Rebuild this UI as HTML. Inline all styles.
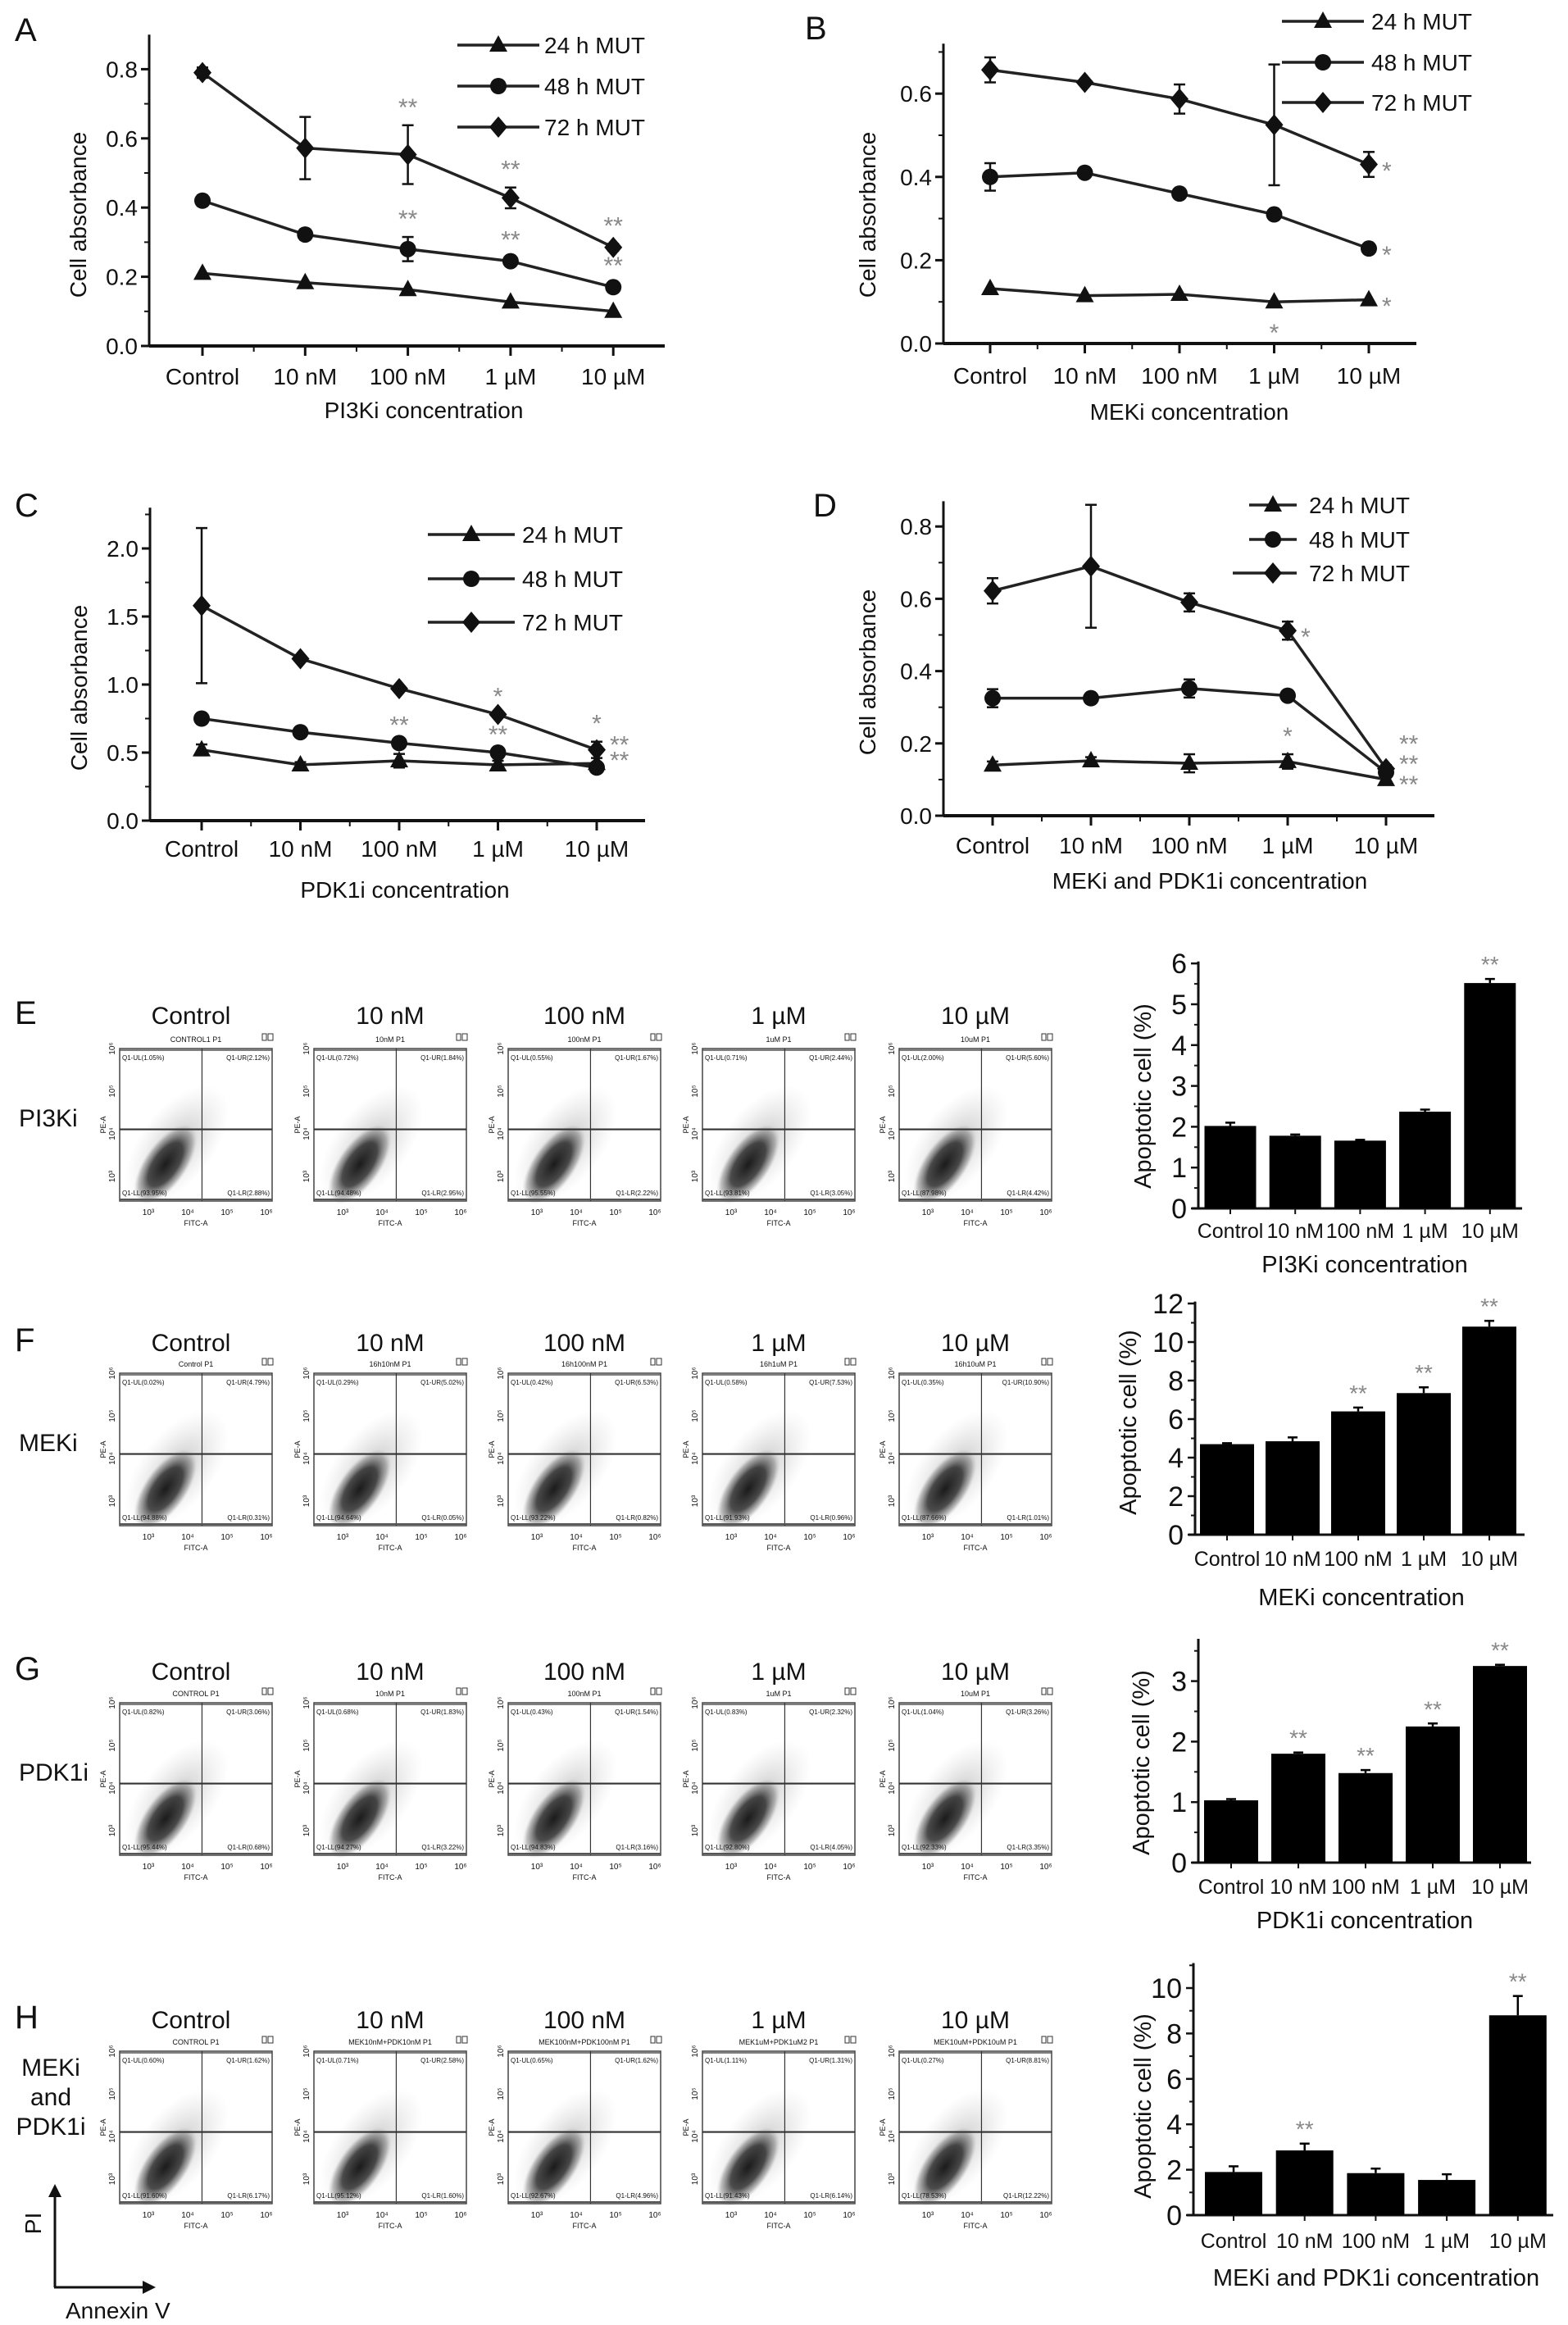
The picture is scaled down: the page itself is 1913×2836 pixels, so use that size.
<!DOCTYPE html>
<html><head><meta charset="utf-8">
<style>
html,body{margin:0;padding:0;background:#fff;}
svg{display:block;font-family:"Liberation Sans",Arial,sans-serif;}
</style></head>
<body>
<svg id="fig" xmlns="http://www.w3.org/2000/svg" width="1913" height="2836" viewBox="0 0 1913 2836">
<defs>
<radialGradient id="blob" cx="50%" cy="50%" r="50%">
<stop offset="0%" stop-color="#111" stop-opacity="0.95"/>
<stop offset="55%" stop-color="#222" stop-opacity="0.8"/>
<stop offset="85%" stop-color="#555" stop-opacity="0.35"/>
<stop offset="100%" stop-color="#999" stop-opacity="0"/>
</radialGradient>
<radialGradient id="haze" cx="50%" cy="50%" r="50%">
<stop offset="0%" stop-color="#666" stop-opacity="0.4"/>
<stop offset="100%" stop-color="#aaa" stop-opacity="0"/>
</radialGradient>
</defs>
</svg>
<script>
// ---------- DATA ----------
const categories = ['Control','10 nM','100 nM','1 \u00b5M','10 \u00b5M'];
const seriesNames = ['24 h MUT','48 h MUT','72 h MUT'];
const yTicksA = [0,0.2,0.4,0.6,0.8];
const yTicksB = [0,0.2,0.4,0.6];
const yTicksC = [0,0.5,1.0,1.5,2.0];
const yTicksD = [0,0.2,0.4,0.6,0.8];
// Panel A (PI3Ki)
const a24 = [0.21,0.183,0.163,0.127,0.10];
const a24e = [0,0,0,0,0];
const a48 = [0.42,0.322,0.28,0.245,0.17];
const a48e = [0.015,0.015,0.035,0.01,0.01];
const a72 = [0.79,0.572,0.553,0.428,0.285];
const a72e = [0.015,0.09,0.085,0.03,0.01];
// Panel B (MEKi)
const b24 = [0.132,0.115,0.118,0.10,0.105];
const b24e = [0,0,0,0,0];
const b48 = [0.40,0.41,0.36,0.31,0.228];
const b48e = [0.033,0.01,0,0,0];
const b72 = [0.657,0.627,0.587,0.525,0.43];
const b72e = [0.03,0,0.035,0.145,0.03];
// Panel C (PDK1i)
const c24 = [0.52,0.41,0.44,0.41,0.42];
const c24e = [0.04,0.02,0.05,0.03,0];
const c48 = [0.75,0.65,0.57,0.50,0.39];
const c48e = [0.02,0,0,0,0.03];
const c72 = [1.58,1.19,0.97,0.78,0.52];
const c72e = [0.57,0,0,0,0.06];
// Panel D (MEKi + PDK1i)
const d24 = [0.14,0.152,0.145,0.15,0.10];
const d24e = [0.01,0.01,0.025,0.02,0.01];
const d48 = [0.325,0.325,0.352,0.332,0.12];
const d48e = [0.025,0,0.025,0,0.01];
const d72 = [0.622,0.69,0.59,0.512,0.13];
const d72e = [0.035,0.17,0.025,0.025,0.01];
// significance marks: [seriesIndex, categoryIndex, text, position, pixelNudge]
const starsA = [[2,2,'**','above',0],[1,2,'**','above',0],[2,3,'**','above',0],[1,3,'**','above',0],[2,4,'**','above',0],[1,4,'**','above',0]];
const starsB = [[2,4,'*','right',0],[1,4,'*','right',0],[0,4,'*','right',0],[0,3,'*','below',0]];
const starsC = [[1,2,'**','above',0],[2,3,'*','above',0],[1,3,'**','above',0],[2,4,'*','above',0],[1,4,'**','right',-17],[0,4,'**','right',-31]];
const starsD = [[2,3,'*','right',0],[0,3,'*','above',0],[2,4,'**','right',-38],[1,4,'**','right',-18],[0,4,'**','right',-2]];
// Bar charts (apoptotic %)
const eVals = [2.02,1.78,1.66,2.37,5.52];
const eErr = [0.08,0.03,0.02,0.05,0.1];
const eStars = ['','','','','**'];
const eTicks = [0,1,2,3,4,5,6];
const fVals = [4.7,4.85,6.4,7.35,10.8];
const fErr = [0.05,0.2,0.2,0.3,0.3];
const fStars = ['','','**','**','**'];
const fTicks = [0,2,4,6,8,10,12];
const gVals = [1.03,1.8,1.48,2.25,3.25];
const gErr = [0.02,0.02,0.05,0.05,0.02];
const gStars = ['','**','**','**','**'];
const gTicks = [0,1,2,3];
const hVals = [1.9,2.85,1.85,1.55,8.8];
const hErr = [0.25,0.3,0.2,0.25,0.85];
const hStars = ['','**','','','**'];
const hTicks = [0,2,4,6,8,10];
// Flow cytometry quadrant percentages [UL,UR,LL,LR]
const flowE = [[1.05,2.12,93.95,2.88],[0.72,1.84,94.48,2.95],[0.55,1.67,95.55,2.22],[0.71,2.44,93.81,3.05],[2.00,5.60,87.98,4.42]];
const flowF = [[0.02,4.79,94.88,0.31],[0.29,5.02,94.64,0.05],[0.42,6.53,93.22,0.82],[0.58,7.53,91.93,0.96],[0.35,10.90,87.66,1.01]];
const flowG = [[0.82,3.06,95.44,0.68],[0.68,1.83,94.27,3.22],[0.43,1.54,94.83,3.16],[0.83,2.32,92.80,4.05],[1.04,3.26,92.33,3.35]];
const flowH = [[0.60,1.62,91.60,6.17],[0.71,2.58,95.12,1.60],[0.65,1.62,92.67,4.96],[1.11,1.31,91.43,6.14],[0.27,8.81,78.53,12.22]];

// ---------- helpers ----------
const NS = 'http://www.w3.org/2000/svg';
const svg = document.getElementById('fig');
function mk(tag, attrs, parent){
  const el = document.createElementNS(NS, tag);
  for (const k in attrs) el.setAttribute(k, attrs[k]);
  (parent || svg).appendChild(el);
  return el;
}
function txt(s, x, y, size, anchor, parent, extra){
  const el = mk('text', Object.assign({x:x, y:y, 'font-size':size, 'text-anchor':anchor||'middle', fill:'#111'}, extra||{}), parent);
  el.textContent = s;
  return el;
}
function marker(kind, x, y, parent){
  let el;
  if (kind === 0) el = mk('polygon', {points:(x)+','+(y-12)+' '+(x-11)+','+(y+8)+' '+(x+11)+','+(y+8), fill:'#111'}, parent);
  else if (kind === 1) el = mk('circle', {cx:x, cy:y, r:10, fill:'#111'}, parent);
  else el = mk('polygon', {points:x+','+(y-13)+' '+(x+11)+','+y+' '+x+','+(y+13)+' '+(x-11)+','+y, fill:'#111'}, parent);
  return el;
}

// ---------- line chart ----------
function lineChart(c){
  const g = mk('g', {});
  
  
  const X = i => c.cx0 + i*c.step;
  const Y = v => c.y0 - v*c.ppu;
  const letter = txt(c.letter, c.lx, c.ly, 40, 'start', g);
  
  
  const yax = mk('line', {x1:c.ax, y1:Y(c.ymax), x2:c.ax, y2:c.y0, stroke:'#111', 'stroke-width':3}, g);
  
  
  const xax = mk('line', {x1:c.ax, y1:c.y0, x2:c.xend, y2:c.y0, stroke:'#111', 'stroke-width':4}, g);
  
  
  c.ticks.forEach((t, k) => {
    mk('line', {x1:c.ax-10, y1:Y(t), x2:c.ax, y2:Y(t), stroke:'#111', 'stroke-width':3}, g);
    const m = t + (c.ticks[1]-c.ticks[0])/2;
    if (m < c.ymax) mk('line', {x1:c.ax-6, y1:Y(m), x2:c.ax, y2:Y(m), stroke:'#111', 'stroke-width':2}, g);
    const tl = txt(t.toFixed(1), c.ax-14, Y(t)+10, 28, 'end', g);
    
    
  });
  categories.forEach((cat, i) => {
    mk('line', {x1:X(i), y1:c.y0, x2:X(i), y2:c.y0+12, stroke:'#111', 'stroke-width':3}, g);
    if (i < categories.length-1) mk('line', {x1:X(i+0.5), y1:c.y0, x2:X(i+0.5), y2:c.y0+7, stroke:'#111', 'stroke-width':2}, g);
    const tl = txt(cat, X(i), c.tickY, 28, 'middle', g);
    
    
  });
  const xl = txt(c.xlabel, c.xlx, c.xly, 28, 'middle', g);
  
  
  const yl = txt('Cell absorbance', 0, 0, 28, 'middle', g, {transform:'translate('+(c.ylx)+','+(c.yly)+') rotate(-90)'});
  
  
  c.series.forEach((s, si) => {
    const sg = mk('g', {}, g);
    
    
    const pts = s.v.map((v,i) => X(i)+','+Y(v)).join(' ');
    mk('polyline', {points:pts, fill:'none', stroke:'#222', 'stroke-width':3.5}, sg);
    s.v.forEach((v,i) => {
      const e = s.e[i];
      if (e > 0) {
        mk('line', {x1:X(i), y1:Y(v+e), x2:X(i), y2:Y(v-e), stroke:'#111', 'stroke-width':2.5}, sg);
        mk('line', {x1:X(i)-7, y1:Y(v+e), x2:X(i)+7, y2:Y(v+e), stroke:'#111', 'stroke-width':2.5}, sg);
        mk('line', {x1:X(i)-7, y1:Y(v-e), x2:X(i)+7, y2:Y(v-e), stroke:'#111', 'stroke-width':2.5}, sg);
      }
      const m = marker(si, X(i), Y(v), sg);
      
      
    });
  });
  c.stars.forEach(st => {
    const s = c.series[st[0]], i = st[1];
    const v = s.v[i], e = s.e[i];
    let x = X(i), y;
    let anchor = 'middle';
    if (st[3] === 'above') y = Y(v+e) - 12;
    else if (st[3] === 'below') y = Y(v) + 48;
    else { x = X(i)+16; y = Y(v)+18; anchor = 'start'; }
    y += st[4] || 0;
    const t = txt(st[2], x, y, 30, anchor, g, {fill:'#888'});
    
    
  });
  c.legend.rows.forEach((ry, si) => {
    const lg = mk('g', {}, g);
    
    
    mk('line', {x1:c.legend.x1[si], y1:ry, x2:c.legend.x2, y2:ry, stroke:'#222', 'stroke-width':3.5}, lg);
    marker(si, (c.legend.x1[1]+c.legend.x2)/2, ry, lg);
    txt(seriesNames[si], c.legend.tx, ry+10, 28, 'start', lg);
  });
}

lineChart({name:'panel-a-pi3ki-line-chart', letter:'A', lx:18, ly:50, ax:182, y0:422, ppu:422, ymax:0.9, ticks:yTicksA,
  cx0:247, step:125.3, xend:811, tickY:469, xlabel:'PI3Ki concentration', xlx:517, xly:510, ylx:105, yly:262,
  series:[{v:a24,e:a24e},{v:a48,e:a48e},{v:a72,e:a72e}], stars:starsA,
  legend:{x1:[558,558,558], x2:658, tx:664, rows:[55,105,155]}});
lineChart({name:'panel-b-meki-line-chart', letter:'B', lx:982, ly:48, ax:1151, y0:419, ppu:508, ymax:0.72, ticks:yTicksB,
  cx0:1208, step:115.5, xend:1728, tickY:468, xlabel:'MEKi concentration', xlx:1451, xly:512, ylx:1068, yly:262,
  series:[{v:b24,e:b24e},{v:b48,e:b48e},{v:b72,e:b72e}], stars:starsB,
  legend:{x1:[1564,1564,1564], x2:1664, tx:1673, rows:[26,76,125]}});
lineChart({name:'panel-c-pdk1i-line-chart', letter:'C', lx:18, ly:630, ax:183, y0:1001, ppu:166, ymax:2.3, ticks:yTicksC,
  cx0:246, step:120.5, xend:787, tickY:1045, xlabel:'PDK1i concentration', xlx:494, xly:1095, ylx:106, yly:839,
  series:[{v:c24,e:c24e},{v:c48,e:c48e},{v:c72,e:c72e}], stars:starsC,
  legend:{x1:[522,522,522], x2:628, tx:637, rows:[652,706,759]}});
lineChart({name:'panel-d-meki-pdk1i-line-chart', letter:'D', lx:992, ly:630, ax:1151, y0:995, ppu:441, ymax:0.87, ticks:yTicksD,
  cx0:1211, step:120, xend:1750, tickY:1041, xlabel:'MEKi and PDK1i concentration', xlx:1476, xly:1084, ylx:1068, yly:820,
  series:[{v:d24,e:d24e},{v:d48,e:d48e},{v:d72,e:d72e}], stars:starsD,
  legend:{x1:[1524,1524,1504], x2:1582, tx:1597, rows:[616,658,699]}});

// ---------- bar charts ----------
function barChart(c){
  const g = mk('g', {});
  
  
  const Y = v => c.y0 - v*c.ppu;
  const X = i => c.cx0 + i*c.step;
  const yax = mk('line', {x1:c.ax, y1:Y(c.ymax), x2:c.ax, y2:c.y0, stroke:'#111', 'stroke-width':3}, g);
  
  
  const xax = mk('line', {x1:c.ax-8, y1:c.y0, x2:c.xend, y2:c.y0, stroke:'#111', 'stroke-width':3}, g);
  
  
  const st = c.ticks[1]-c.ticks[0];
  c.ticks.forEach(t => {
    mk('line', {x1:c.ax-9, y1:Y(t), x2:c.ax, y2:Y(t), stroke:'#111', 'stroke-width':2.5}, g);
    if (t + st/2 < c.ymax) mk('line', {x1:c.ax-5, y1:Y(t+st/2), x2:c.ax, y2:Y(t+st/2), stroke:'#111', 'stroke-width':2}, g);
    const tl = txt(String(t), c.ax-14, Y(t)+12, 34, 'end', g);
    
    
  });
  c.vals.forEach((v, i) => {
    const b = mk('rect', {x:X(i)-c.bw/2, y:Y(v), width:c.bw, height:c.y0-Y(v), fill:'#000'}, g);
    
    
    const e = c.err[i];
    mk('line', {x1:X(i), y1:Y(v), x2:X(i), y2:Y(v+e), stroke:'#000', 'stroke-width':2.5}, g);
    mk('line', {x1:X(i)-6, y1:Y(v+e), x2:X(i)+6, y2:Y(v+e), stroke:'#000', 'stroke-width':2.5}, g);
    mk('line', {x1:X(i), y1:c.y0, x2:X(i), y2:c.y0+7, stroke:'#111', 'stroke-width':2}, g);
    if (c.stars[i]) {
      const s = txt(c.stars[i], X(i), Y(v+e)-8, 28, 'middle', g, {fill:'#888'});
      
      
    }
    const tl = txt(categories[i], X(i), c.tickY, 25, 'middle', g);
    
    
  });
  const xl = txt(c.xlabel, c.xlx, c.xly, 29, 'middle', g);
  
  
  const yl = txt('Apoptotic cell (%)', 0, 0, 29, 'middle', g, {transform:'translate('+c.ylx+','+c.yly+') rotate(-90)'});
  
  
}
barChart({name:'panel-e-pi3ki-bar-chart', ax:1462, y0:1474, ppu:49.8, ymax:6.05, ticks:eTicks, cx0:1501, step:79.2, bw:63, xend:1857,
  vals:eVals, err:eErr, stars:eStars, tickY:1510, xlabel:'PI3Ki concentration', xlx:1665, xly:1552, ylx:1404, yly:1337});
barChart({name:'panel-f-meki-bar-chart', ax:1458, y0:1872, ppu:23.5, ymax:12.1, ticks:fTicks, cx0:1497, step:80, bw:66, xend:1860,
  vals:fVals, err:fErr, stars:fStars, tickY:1910, xlabel:'MEKi concentration', xlx:1661, xly:1958, ylx:1386, yly:1735});
barChart({name:'panel-g-pdk1i-bar-chart', ax:1462, y0:2272, ppu:73.8, ymax:3.7, ticks:gTicks, cx0:1502, step:82, bw:66, xend:1868,
  vals:gVals, err:gErr, stars:gStars, tickY:2310, xlabel:'PDK1i concentration', xlx:1665, xly:2352, ylx:1402, yly:2150});
barChart({name:'panel-h-combo-bar-chart', ax:1456, y0:2702, ppu:27.7, ymax:11.1, ticks:hTicks, cx0:1505, step:86.7, bw:70, xend:1895,
  vals:hVals, err:hErr, stars:hStars, tickY:2742, xlabel:'MEKi and PDK1i concentration', xlx:1679, xly:2788, ylx:1404, yly:2569});

// ---------- flow cytometry plots ----------
const flowX = [146,383,620,857,1097];
const flowHeaders = {
  E:['CONTROL1  P1','10nM  P1','100nM  P1','1uM  P1','10uM  P1'],
  F:['Control  P1','16h10nM  P1','16h100nM  P1','16h1uM  P1','16h10uM  P1'],
  G:['CONTROL  P1','10nM  P1','100nM  P1','1uM  P1','10uM  P1'],
  H:['CONTROL  P1','MEK10nM+PDK10nM  P1','MEK100nM+PDK100nM  P1','MEK1uM+PDK1uM2  P1','MEK10uM+PDK10uM  P1']
};
function flowRow(letter, rowLabel, titleY, top, data, headers){
  const g = mk('g', {});
  
  
  const L = txt(letter, 18, titleY+12, 40, 'start', g);
  
  
  if (rowLabel.length === 1) {
    const rl = txt(rowLabel[0], 23, top+95, 30, 'start', g);
    
    
  } else {
    rowLabel.forEach((s, k) => {
      const rl = txt(s, 62, top+30+k*36, 30, 'middle', g);
      
      
    });
  }
  flowX.forEach((x, i) => {
    const w = 186, h = 186;
    const pg = mk('g', {}, g);
    
    
    const t = txt(categories[i], x+w/2+(i===0?-6:0), titleY+12, 30, 'middle', pg);
    
    
    txt(headers[i], x+w/2, top-8, 9, 'middle', pg);
    mk('rect', {x:x+w-12, y:top-18, width:5, height:8, fill:'none', stroke:'#333', 'stroke-width':1}, pg);
    mk('rect', {x:x+w-5, y:top-18, width:6, height:8, fill:'none', stroke:'#333', 'stroke-width':1}, pg);
    const cx = x + w*0.30, cy = top + h*0.76;
    mk('ellipse', {cx:cx+14, cy:cy-24, rx:85, ry:45, fill:'url(#haze)', transform:'rotate(-52 '+(cx+14)+' '+(cy-24)+')'}, pg);
    mk('ellipse', {cx:cx, cy:cy, rx:56, ry:26, fill:'url(#blob)', transform:'rotate(-55 '+cx+' '+cy+')'}, pg);
    mk('rect', {x:x, y:top, width:w, height:h, fill:'none', stroke:'#444', 'stroke-width':1.5}, pg);
    mk('line', {x1:x, y1:top+2, x2:x+w, y2:top+2, stroke:'#555', 'stroke-width':1.5}, pg);
    mk('line', {x1:x+w*0.54, y1:top, x2:x+w*0.54, y2:top+h, stroke:'#333', 'stroke-width':1.2}, pg);
    mk('line', {x1:x, y1:top+h*0.53, x2:x+w, y2:top+h*0.53, stroke:'#333', 'stroke-width':2.2}, pg);
    mk('line', {x1:x, y1:top+h-2, x2:x+w, y2:top+h-2, stroke:'#555', 'stroke-width':2}, pg);
    const q = data[i];
    txt('Q1-UL('+q[0].toFixed(2)+'%)', x+3, top+14, 8, 'start', pg);
    txt('Q1-UR('+q[1].toFixed(2)+'%)', x+w-3, top+14, 8, 'end', pg);
    txt('Q1-LL('+q[2].toFixed(2)+'%)', x+3, top+h-7, 8, 'start', pg);
    txt('Q1-LR('+q[3].toFixed(2)+'%)', x+w-3, top+h-7, 8, 'end', pg);
    ['10\u00b3','10\u2074','10\u2075','10\u2076'].forEach((s, k) => {
      txt(s, x+35+k*48, top+h+17, 10, 'middle', pg);
    });
    ['10\u00b3','10\u2074','10\u2075','10\u2076'].forEach((s, k) => {
      txt(s, 0, 0, 10, 'middle', pg, {transform:'translate('+(x-6)+','+(top+h-30-k*52)+') rotate(-90)'});
    });
    txt('FITC-A', x+w/2, top+h+30, 9, 'middle', pg);
    txt('PE-A', 0, 0, 9, 'middle', pg, {transform:'translate('+(x-17)+','+(top+h*0.5)+') rotate(-90)'});
  });
}
flowRow('E', ['PI3Ki'], 1237, 1279, flowE, flowHeaders.E);
flowRow('F', ['MEKi'], 1636, 1675, flowF, flowHeaders.F);
flowRow('G', ['PDK1i'], 2037, 2077, flowG, flowHeaders.G);
flowRow('H', ['MEKi','and','PDK1i'], 2462, 2502, flowH, flowHeaders.H);

// PI / Annexin V arrows
const ag = mk('g', {});


mk('line', {x1:67, y1:2790, x2:67, y2:2676, stroke:'#111', 'stroke-width':3}, ag);
mk('polygon', {points:'67,2664 59,2680 75,2680', fill:'#111'}, ag);
mk('line', {x1:66, y1:2790, x2:178, y2:2790, stroke:'#111', 'stroke-width':3}, ag);
mk('polygon', {points:'190,2790 174,2782 174,2798', fill:'#111'}, ag);
const pil = txt('PI', 0, 0, 28, 'middle', ag, {transform:'translate(50,2712) rotate(-90)'});


const anl = txt('Annexin V', 80, 2828, 28, 'start', ag);


</script>
</body></html>
